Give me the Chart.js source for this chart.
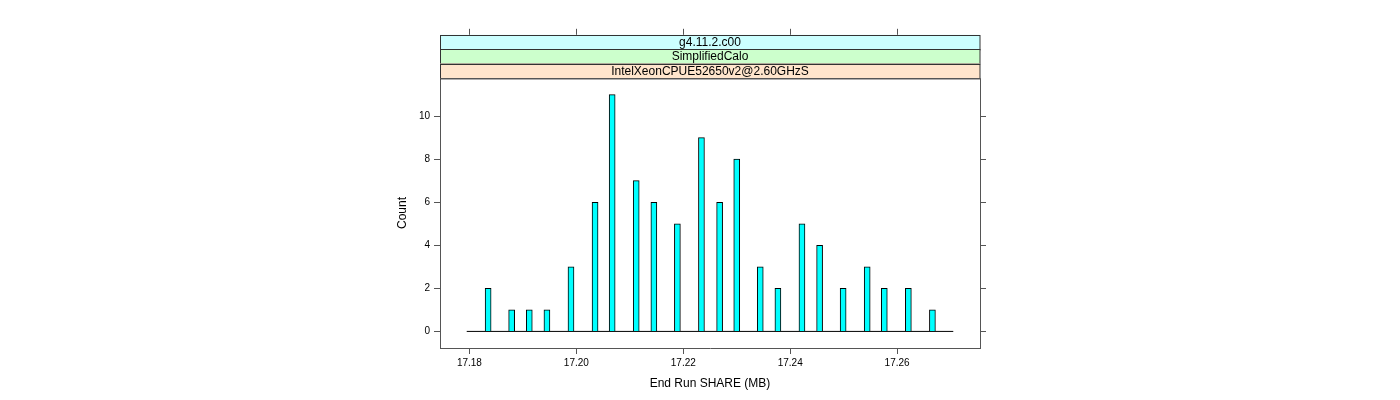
<!DOCTYPE html>
<html>
<head>
<meta charset="utf-8">
<script src="https://cdn.jsdelivr.net/npm/chart.js@4/dist/chart.umd.min.js"></script>
<style>
  body { margin: 0; background: #fff; }
</style>
</head>
<body>
<canvas id="myChart" width="1400" height="400"></canvas>
<script>
// histogram bars (bin centres, MB) and their counts
const barX = [17.1835, 17.1879, 17.1912, 17.1945, 17.1990, 17.2035, 17.2067, 17.2112, 17.2145, 17.2189, 17.2234,
              17.2268, 17.2300, 17.2344, 17.2377, 17.2422, 17.2455, 17.2499, 17.2544, 17.2576, 17.2621, 17.2666];
const counts = [2, 1, 1, 1, 3, 6, 11, 7, 6, 5, 9, 6, 8, 3, 2, 5, 4, 2, 3, 2, 2, 1];

// first and last histogram break (zero-height bins show as the base line)
const breaksX = [17.1795, 17.2705];

const xTicks = [17.18, 17.20, 17.22, 17.24, 17.26];
const yTicks = [0, 2, 4, 6, 8, 10];

// strip labels, outermost first
const strips = ['g4.11.2.c00', 'SimplifiedCalo', 'IntelXeonCPUE52650v2@2.60GHzS'];
const stripColors = ['#CCFFFF', '#CCFFCC', '#FFE5CC'];

Chart.defaults.font.family = "'Liberation Sans', Arial, Helvetica, sans-serif";
Chart.defaults.color = '#000';

const axisColor = '#555';

const latticeFrame = {
    id: 'latticeFrame',
    afterDraw(chart) {
        const ctx = chart.ctx;
        const a = chart.chartArea;
        const xs = chart.scales.x;
        const ys = chart.scales.y;
        const stripH = 14.4;
        ctx.save();

        // strips above the panel
        ctx.font = "12px 'Liberation Sans', Arial, sans-serif";
        ctx.textAlign = 'center';
        ctx.textBaseline = 'middle';
        const n = strips.length;
        for (let i = 0; i < n; i++) {
            const top = a.top - (n - i) * stripH;
            ctx.fillStyle = stripColors[i];
            ctx.fillRect(a.left, top, a.right - a.left, stripH);
            ctx.strokeStyle = '#333';
            ctx.lineWidth = 1;
            ctx.strokeRect(a.left + 0.5, Math.round(top) + 0.5, a.right - a.left - 0.5, stripH);
            ctx.fillStyle = '#000';
            ctx.fillText(strips[i], (a.left + a.right) / 2, top + stripH / 2 + 0.5);
        }

        ctx.strokeStyle = axisColor;
        ctx.lineWidth = 1;
        // panel frame (top and right)
        ctx.beginPath();
        ctx.moveTo(a.left, a.top + 0.5);
        ctx.lineTo(a.right + 0.5, a.top + 0.5);
        ctx.lineTo(a.right + 0.5, a.bottom);
        ctx.stroke();

        // top ticks above the strips
        const stripTop = a.top - n * stripH;
        ctx.beginPath();
        xTicks.forEach(v => {
            const px = Math.round(xs.getPixelForValue(v)) + 0.5;
            ctx.moveTo(px, stripTop);
            ctx.lineTo(px, stripTop - 6);
        });
        // right ticks
        yTicks.forEach(v => {
            const py = Math.round(ys.getPixelForValue(v)) + 0.5;
            ctx.moveTo(a.right, py);
            ctx.lineTo(a.right + 6, py);
        });
        ctx.stroke();
        ctx.restore();
    }
};

const ctx = document.getElementById('myChart').getContext('2d');
const myChart = new Chart(ctx, {
    type: 'bar',
    data: {
        datasets: [{
            type: 'bar',
            data: barX.map((x, i) => ({ x: x, y: counts[i] })),
            backgroundColor: '#00FFFF',
            borderColor: '#000',
            borderWidth: 1,
            barThickness: 6,
            order: 1
        }, {
            type: 'line',
            data: breaksX.map(x => ({ x: x, y: 0 })),
            borderColor: '#000',
            borderWidth: 1,
            pointRadius: 0,
            order: 2
        }]
    },
    options: {
        responsive: false,
        animation: false,
        layout: {
            padding: { left: 388, right: 420, top: 78, bottom: 0 }
        },
        plugins: {
            legend: { display: false },
            tooltip: { enabled: false }
        },
        scales: {
            x: {
                type: 'linear',
                min: 17.1745,
                max: 17.2755,
                offset: false,
                afterBuildTicks: s => { s.ticks = xTicks.map(v => ({ value: v })); },
                afterFit: s => { s.height = 52; },
                ticks: {
                    font: { size: 10 },
                    padding: 3,
                    maxRotation: 0,
                    callback: v => v.toFixed(2)
                },
                grid: {
                    offset: false,
                    drawOnChartArea: false,
                    drawTicks: true,
                    tickLength: 6,
                    color: axisColor
                },
                border: { display: true, color: axisColor },
                title: {
                    display: true,
                    text: 'End Run SHARE (MB)',
                    font: { size: 12 },
                    padding: { top: 0, bottom: 9 }
                }
            },
            y: {
                min: -0.77,
                max: 11.77,
                afterBuildTicks: s => { s.ticks = yTicks.map(v => ({ value: v })); },
                afterFit: s => { s.width = 52; },
                ticks: {
                    font: { size: 10 },
                    padding: 4
                },
                grid: {
                    drawOnChartArea: false,
                    drawTicks: true,
                    tickLength: 6,
                    color: axisColor
                },
                border: { display: true, color: axisColor },
                title: {
                    display: true,
                    text: 'Count',
                    font: { size: 12 },
                    padding: { top: 7, bottom: 0 }
                }
            }
        }
    },
    plugins: [latticeFrame]
});
</script>
</body>
</html>
